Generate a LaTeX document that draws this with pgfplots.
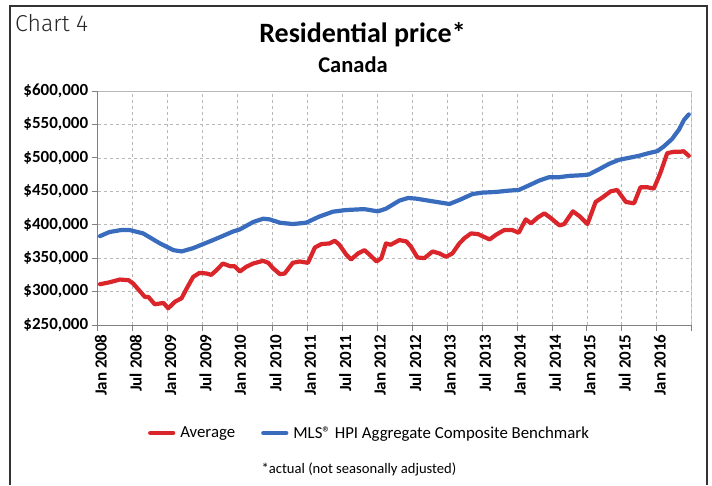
\documentclass[border=0pt]{standalone}
\usepackage{pgfplots}
\pgfplotsset{compat=1.18}
\usepackage{fontspec}
\setmainfont{Carlito}
\newfontfamily\lightfont{Fira Sans}[UprightFont={* Light}]
\definecolor{avgred}{RGB}{218,37,42}
\definecolor{mlsblue}{RGB}{58,108,190}
\begin{document}
\begin{tikzpicture}[x=1pt,y=1pt]
\path[use as bounding box, fill=white] (0,0) rectangle (712,485);
\draw[line width=2pt, black!80] (10,0) -- (10,479) -- (706.5,479) -- (706.5,0);
\node[anchor=base west, font=\lightfont\fontsize{23}{26}\selectfont, text=black!85, inner sep=0] at (15,453) {Chart 4};
\node[anchor=base, font=\bfseries\fontsize{28}{32}\selectfont, inner sep=0] at (362.5,442.3) {Residential price*};
\node[anchor=base, font=\bfseries\fontsize{22.5}{26}\selectfont, inner sep=0] at (353,412) {Canada};
\node[anchor=base, font=\fontsize{14.6}{17}\selectfont, inner sep=0] at (359,12) {*actual (not seasonally adjusted)};
\begin{axis}[
  at={(97.7pt,160pt)}, anchor=south west,
  scale only axis, width=594pt, height=234pt,
  xmin=0, xmax=102, ymin=250, ymax=600,
  xtick={0,6,...,102},
  xticklabels={Jan 2008,Jul 2008,Jan 2009,Jul 2009,Jan 2010,Jul 2010,Jan 2011,Jul 2011,Jan 2012,Jul 2012,Jan 2013,Jul 2013,Jan 2014,Jul 2014,Jan 2015,Jul 2015,Jan 2016,{}},
  ytick={250,300,...,600},
  yticklabels={\$250{,}000,\$300{,}000,\$350{,}000,\$400{,}000,\$450{,}000,\$500{,}000,\$550{,}000,\$600{,}000},
  xticklabel style={rotate=90, anchor=east, yshift=-3pt, font=\bfseries\fontsize{17}{19}\selectfont},
  yticklabel style={font=\bfseries\fontsize{17}{19}\selectfont},
  axis lines*=left,
  axis line style={-, draw=black!50, line width=1pt},
  tick align=outside, major tick length=6pt,
  tick style={draw=black!50, line width=0.8pt},
  grid=major,
  major grid style={draw=black!28, dash pattern=on 3pt off 3pt, line width=0.7pt},
  legend columns=2,
  legend style={at={(0.4576,-0.4615)}, anchor=center, draw=none, fill=none,
    font=\fontsize{16.8}{19}\selectfont,
    /tikz/every odd column/.append style={column sep=3pt},
    /tikz/every even column/.append style={column sep=24pt}},
  legend image code/.code={\draw[#1, line cap=round] (0pt,0pt) -- (23pt,0pt);},
]
\draw[black!28, line width=0.8pt] (rel axis cs:0,1) -- (rel axis cs:1,1) -- (rel axis cs:1,0);
\addplot[avgred, line width=4.2pt, line join=round, line cap=round] coordinates {
(0.4,311) (2.1,314) (3.8,318) (5.3,317) (6.1,312) (7.3,300) (8.1,292) (8.7,292)
(9.8,281) (11.3,283) (12.1,275) (13.3,285) (14.4,290) (15.3,305) (16.4,322) (17.5,328)
(18.7,327) (19.5,325) (20.4,332) (21.5,342) (22.7,338) (23.5,338) (24.4,330) (25.5,337)
(26.7,342) (28.4,346) (29.3,343) (30.1,335) (31.3,326) (32.1,327) (33.5,343) (34.7,345)
(36.1,343) (37.3,366) (38.4,371) (39.8,372) (40.7,376) (41.5,370) (42.7,355) (43.5,348)
(44.7,357) (45.8,362) (46.7,355) (47.9,345) (48.7,350) (49.5,372) (50.3,370) (51.8,377)
(53,375) (53.8,367) (54.9,351) (56.1,350) (57.5,360) (58.7,357) (59.8,352) (60.9,357)
(62.1,372) (63,380) (64.1,387) (65.3,386) (67.3,378) (68.4,385) (69.8,392) (71.2,392)
(72.3,388) (73.5,408) (74.4,402) (75.6,411) (76.7,417) (77.8,410) (79.3,399) (80.1,401)
(81.6,420) (82.7,413) (84.1,401) (85.5,434) (86.7,441) (88.1,450) (89.2,452) (90.7,434)
(92.1,432) (93.2,456) (94.4,456) (95.5,454) (96.6,477) (97.8,507) (98.9,509) (100,509)
(100.6,510) (101.5,503)
};
\addlegendentry{Average}
\addplot[mlsblue, line width=4.2pt, line join=round, line cap=round] coordinates {
(0.4,383) (2,389) (4,392) (5.5,392) (7.8,387) (10.7,372) (13,362) (14.4,360)
(16.4,365) (19.8,377) (23.3,390) (24.4,393) (26.7,404) (28.4,409) (29.5,408) (31.3,403)
(33.5,401) (35.8,403) (38,412) (40.4,419.5) (42.7,422) (45,423) (46,423) (48.1,420)
(49.5,424) (51.8,436) (53.3,440) (54.7,439) (57.5,435) (60.4,431) (62.1,437) (64.4,446)
(66.1,448) (68.4,449) (70.6,451) (72.3,452) (74.1,459) (75.8,466) (77.5,471) (79.2,471)
(80.9,473) (83.1,474) (84.3,475) (86.1,483) (87.8,491) (89.5,497) (91.2,500) (92.9,503)
(94.6,507) (96.1,510) (97.2,517) (98.6,528) (99.8,542) (100.7,557) (101.5,565)
};
\addlegendentry{MLS® HPI Aggregate Composite Benchmark}
\end{axis}
\end{tikzpicture}
\end{document}
